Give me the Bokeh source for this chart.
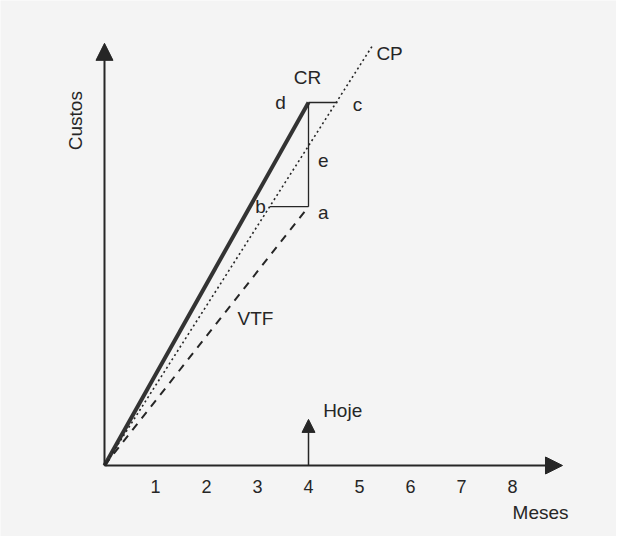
from bokeh.plotting import figure
from bokeh.models import Arrow, NormalHead, Range1d
from bokeh.core.properties import value
from bokeh.embed import file_html
from bokeh.resources import INLINE
import math

# ---- data (months on x, cost units on y) ----
months = [1, 2, 3, 4, 5, 6, 7, 8]
month_labels = ["1", "2", "3", "4", "5", "6", "7", "8"]
today = 4
cr_end = [4.0, 10.0]      # d : real cost (CR)
vtf_end = [4.0, 7.13]     # a : earned value (VTF)
b_pt = [3.24, 7.13]       # b : on planned cost line
c_pt = [4.57, 10.0]       # c : on planned cost line
cp_end = [5.27, 11.6]     # end of planned cost line (CP)
x_axis_end = 8.98
y_axis_end = 11.63
hoje_end = 1.27

ink = "#262626"
font = value("Liberation Sans")

p = figure(width=616, height=536, output_backend="svg", toolbar_location=None,
           x_range=Range1d(-2.039, 10.039), y_range=Range1d(-1.956, 12.81),
           min_border=0)
p.axis.visible = False
p.grid.visible = False
p.outline_line_color = None
p.background_fill_color = "#f4f4f4"
p.border_fill_color = "#f4f4f4"

# axes with arrow heads
p.add_layout(Arrow(end=NormalHead(size=17, fill_color=ink, line_color=ink),
                   x_start=0, y_start=0, x_end=0, y_end=y_axis_end,
                   line_color=ink, line_width=2))
p.add_layout(Arrow(end=NormalHead(size=17, fill_color=ink, line_color=ink),
                   x_start=0, y_start=0, x_end=x_axis_end, y_end=0,
                   line_color=ink, line_width=2))
# "Hoje" arrow
p.add_layout(Arrow(end=NormalHead(size=13, fill_color=ink, line_color=ink),
                   x_start=today, y_start=0, x_end=today, y_end=hoje_end,
                   line_color=ink, line_width=1.5))

# curves
p.line([0, cr_end[0]], [0, cr_end[1]], line_color="#333333", line_width=4)
p.line([0, cp_end[0]], [0, cp_end[1]], line_color=ink, line_width=1.6, line_dash="2 3")
p.line([0, vtf_end[0]], [0, vtf_end[1]], line_color=ink, line_width=2, line_dash="8 7")

# construction lines
p.line([b_pt[0], vtf_end[0]], [b_pt[1], vtf_end[1]], line_color=ink, line_width=1.3)
p.line([cr_end[0], c_pt[0]], [cr_end[1], c_pt[1]], line_color=ink, line_width=1.3)
p.line([cr_end[0], vtf_end[0]], [cr_end[1], vtf_end[1]], line_color=ink, line_width=1.3)

# tick labels
p.text(x=months, y=[-0.58] * len(months), text=month_labels, text_font=font,
       text_font_size="18px", text_color=ink, text_align="center", text_baseline="middle")

def label(x, y, t, size="19px", angle=0, align="center"):
    p.text(x=[x], y=[y], text=[t], text_font=font, text_font_size=size,
           text_color=ink, text_align=align, text_baseline="middle", angle=angle)

label(cr_end[0] - 0.02, cr_end[1] + 0.69, "CR")
label(cp_end[0] + 0.32, cp_end[1] - 0.25, "CP")
label(cr_end[0] - 0.55, cr_end[1], "d")
label(c_pt[0] + 0.39, c_pt[1] - 0.06, "c")
label(vtf_end[0] + 0.29, 8.40, "e")
label(vtf_end[0] + 0.29, vtf_end[1] - 0.16, "a")
label(b_pt[0] - 0.18, b_pt[1], "b")
label(2.96, 4.05, "VTF")
label(today + 0.67, hoje_end + 0.25, "Hoje")
label(8.55, -1.29, "Meses")
label(-0.57, 9.5, "Custos", angle=math.pi / 2)

open("out.html", "w").write(file_html(p, INLINE))
